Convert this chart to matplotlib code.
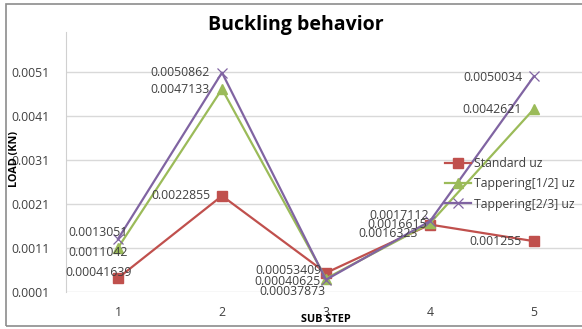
import matplotlib
matplotlib.use('Agg')
import matplotlib.pyplot as plt
from matplotlib.patches import Rectangle

# data
steps = [1, 2, 3, 4, 5]
standard_uz = [0.00041639, 0.0022855, 0.00053409, 0.0016323, 0.001255]
taper_half_uz = [0.0011042, 0.0047133, 0.00040625, 0.0016615, 0.0042621]
taper_twothird_uz = [0.0013051, 0.0050862, 0.00037873, 0.0017112, 0.0050034]
series_names = ['Standard uz', 'Tappering[1/2] uz', 'Tappering[2/3] uz']
y_ticks = [0.0001, 0.0011, 0.0021, 0.0031, 0.0041, 0.0051]
y_tick_labels = ['0.0001', '0.0011', '0.0021', '0.0031', '0.0041', '0.0051']

# label placement (pixel offsets of the label's right edge from its point)
label_offsets = {
    'std': [(14, 6), (-12, 0), (-4, 2), (-12, -9), (-12, 0)],
    'half': [(10, -5), (-12, 0), (-5, -3), (-3, -1), (-12, -1)],
    'twothird': [(10, 6), (-12, 0), (0, -12), (-1, 6), (-12, -1)],
}

plt.rcParams['font.family'] = ['Open Sans', 'DejaVu Sans']

W, H = 582, 329
fig = plt.figure(figsize=(W / 100, H / 100), dpi=100)

# outer chart border
fig.patches.append(Rectangle((6 / W, 3 / H), 1.2, 1 - 7 / H, transform=fig.transFigure,
                             fill=False, edgecolor='#8c8c8c', linewidth=1.2))

ax = fig.add_axes([66 / W, 1 - 292 / H, 520 / W, 259.6 / H])

red = '#C0504D'
green = '#9BBB59'
purple = '#8064A2'

ax.plot(steps, standard_uz, color=red, lw=1.6, marker='s', ms=6.5, label=series_names[0], zorder=3)
ax.plot(steps, taper_half_uz, color=green, lw=1.6, marker='^', ms=7, label=series_names[1], zorder=3)
ax.plot(steps, taper_twothird_uz, color=purple, lw=1.6, marker='x', ms=7, mew=0.9,
        label=series_names[2], zorder=4)

for key, vals in [('std', standard_uz), ('half', taper_half_uz), ('twothird', taper_twothird_uz)]:
    for x, v, off in zip(steps, vals, label_offsets[key]):
        ax.annotate(f'{v:g}' if v >= 0.001 else f'{v:.8g}', (x, v), xytext=off,
                    textcoords='offset pixels', ha='right', va='center',
                    fontsize=8.8, color='#404040', zorder=5)

ax.set_xlim(0.5, 5.5)
ax.set_ylim(0.0001, 0.006)
ax.set_yticks(y_ticks)
ax.set_yticklabels(y_tick_labels)
ax.set_xticks(steps)
ax.set_xticklabels([str(s) for s in steps])
ax.tick_params(axis='both', length=0, labelsize=8.8, labelcolor='#404040')
ax.tick_params(axis='y', pad=12)
ax.tick_params(axis='x', pad=10)
ax.grid(axis='y', color='#d9d9d9', lw=1)
ax.set_axisbelow(True)
for s in ['top', 'right', 'bottom']:
    ax.spines[s].set_visible(False)
ax.spines['left'].set_color('#d0d0d0')

fig.text(296 / W, 1 - 25 / H, 'Buckling behavior', ha='center', va='center',
         fontsize=14, fontweight='bold', color='black')
fig.text(15 / W, 1 - 159 / H, 'LOAD (KN)', rotation=90, ha='center', va='center',
         fontsize=7.8, fontweight='bold')
fig.text(326 / W, 1 - 320 / H, 'SUB STEP', ha='center', va='center',
         fontsize=7.8, fontweight='bold')

leg = fig.legend(loc='upper left', bbox_to_anchor=(445 / W, 1 - 157 / H), frameon=False,
                 fontsize=8.8, handlelength=2.1, handletextpad=0.3, labelspacing=0.6,
                 borderpad=0, borderaxespad=0)
for t in leg.get_texts():
    t.set_color('#404040')

fig.savefig('out.png', dpi=100)
